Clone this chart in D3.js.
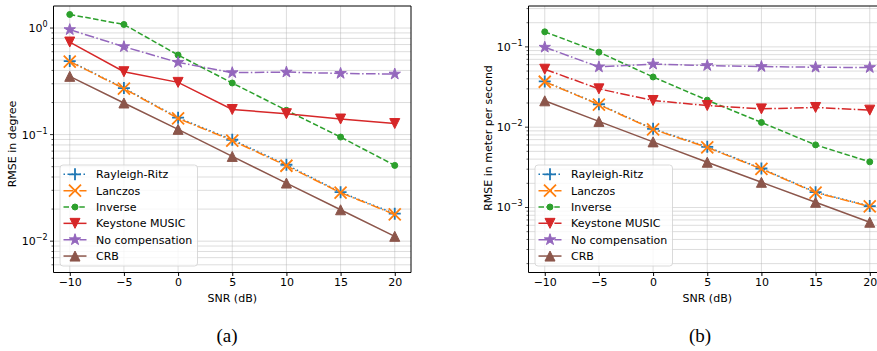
<!DOCTYPE html>
<html>
<head>
<meta charset="utf-8">
<script src="https://cdn.jsdelivr.net/npm/d3@7"></script>
<style>
  body { margin: 0; background: #fff; }
  svg { font-family: "DejaVu Sans", sans-serif; }
</style>
</head>
<body>
<div id="chart-area"></div>
<script>
// x values shared by both panels
const snr = [-10, -5, 0, 5, 10, 15, 20]
const xTicks = [-10, -5, 0, 5, 10, 15, 20]

// (a) RMSE in degree
const rrA = [0.49, 0.273, 0.144, 0.0895, 0.0521, 0.0288, 0.0181]
const lanczosA = [0.485, 0.27, 0.142, 0.088, 0.051, 0.0285, 0.0178]
const inverseA = [1.34, 1.08, 0.558, 0.305, 0.169, 0.0948, 0.0514]
const keystoneA = [0.739, 0.389, 0.309, 0.172, 0.157, 0.140, 0.127]
const nocompA = [0.966, 0.668, 0.476, 0.381, 0.386, 0.375, 0.370]
const crbA = [0.352, 0.198, 0.112, 0.0624, 0.0351, 0.0197, 0.0111]
const yTicksA = [0, -1, -2]

// (b) RMSE in meter per second
const rrV = [0.0371, 0.0193, 0.00953, 0.00569, 0.00306, 0.00155, 0.00104]
const lanczosV = [0.0368, 0.0191, 0.0094, 0.0056, 0.00302, 0.00153, 0.00103]
const inverseV = [0.154, 0.086, 0.0422, 0.0217, 0.01146, 0.00602, 0.0037]
const keystoneV = [0.0527, 0.030, 0.0215, 0.0186, 0.0169, 0.0176, 0.0163]
const nocompV = [0.099, 0.0563, 0.061, 0.0586, 0.0569, 0.0558, 0.0553]
const crbV = [0.0213, 0.0118, 0.00656, 0.00366, 0.00206, 0.00116, 0.000655]
const yTicksV = [-1, -2, -3]

const seriesNames = ["Rayleigh-Ritz", "Lanczos", "Inverse", "Keystone MUSIC", "No compensation", "CRB"]

const W = 877, H = 351
const svg = d3.select("#chart-area").append("svg")
  .attr("width", W)
  .attr("height", H)

// marker shapes, r = half size
const markerPath = {
  plus: r => `M${-r},0H${r}M0,${-r}V${r}`,
  cross: r => `M${-r},${-r}L${r},${r}M${-r},${r}L${r},${-r}`,
  circle: r => `M${r},0A${r},${r} 0 1,1 ${-r},0A${r},${r} 0 1,1 ${r},0Z`,
  tdown: r => `M0,${r}L${-r},${-r}L${r},${-r}Z`,
  tup: r => `M0,${-r}L${-r},${r}L${r},${r}Z`,
  star: r => {
    let p = ""
    for (let i = 0; i < 10; i++) {
      const rr = i % 2 ? r * 0.382 : r
      const a = -Math.PI / 2 + i * Math.PI / 5
      p += (i ? "L" : "M") + (rr * Math.cos(a)).toFixed(2) + "," + (rr * Math.sin(a)).toFixed(2)
    }
    return p + "Z"
  }
}

const DASH = {
  solid: null,
  dashed: "5.5,2.4",
  dashdot: "9.6,2.4,1.5,2.4",
  dotted: "1.5,2.5"
}

function styles(keystoneDash) {
  return [
    { color: "#1f77b4", dash: "dotted", marker: "plus", r: 6, stroked: true },
    { color: "#ff7f0e", dash: "dashdot", marker: "cross", r: 6, stroked: true },
    { color: "#2ca02c", dash: "dashed", marker: "circle", r: 3 },
    { color: "#d62728", dash: keystoneDash, marker: "tdown", r: 5 },
    { color: "#9467bd", dash: "dashdot", marker: "star", r: 6 },
    { color: "#8c564b", dash: "solid", marker: "tup", r: 5 }
  ]
}

function drawPanel(cfg) {
  const x = d3.scaleLinear().domain([-11.5, 21.5]).range([cfg.left, cfg.left + 357.5])
  const y = d3.scaleLog().domain(cfg.yDomain).range([6, 272.5])
  const g = svg.append("g")

  const clipId = "clip" + cfg.id
  svg.append("clipPath").attr("id", clipId)
    .append("rect")
    .attr("x", x.range()[0]).attr("y", 6)
    .attr("width", 357.5).attr("height", 266.5)

  // minor + major grid
  const grid = g.append("g").attr("clip-path", `url(#${clipId})`)
  const lo = Math.floor(Math.log10(cfg.yDomain[1])), hi = Math.ceil(Math.log10(cfg.yDomain[0]))
  const minor = [], major = []
  for (let k = lo; k <= hi; k++) {
    for (let m = 1; m < 10; m++) {
      const v = m * Math.pow(10, k)
      if (v < cfg.yDomain[1] || v > cfg.yDomain[0]) continue
      if (m === 1) major.push(v); else minor.push(v)
    }
  }
  grid.selectAll(".hg").data(minor.concat(major)).enter().append("line")
    .attr("x1", x.range()[0]).attr("x2", x.range()[1])
    .attr("y1", d => y(d)).attr("y2", d => y(d))
    .attr("stroke", "#b0b0b0").attr("stroke-opacity", 0.55).attr("stroke-width", 0.8)
  grid.selectAll(".vg").data(xTicks).enter().append("line")
    .attr("x1", d => x(d)).attr("x2", d => x(d))
    .attr("y1", 6).attr("y2", 272.5)
    .attr("stroke", "#b0b0b0").attr("stroke-opacity", 0.55).attr("stroke-width", 0.8)

  // series
  const st = styles(cfg.keystoneDash)
  const plot = g.append("g").attr("clip-path", `url(#${clipId})`)
  const line = d3.line().x((d, i) => x(snr[i])).y(d => y(d))
  cfg.series.forEach((vals, si) => {
    const s = st[si]
    plot.append("path")
      .attr("d", line(vals))
      .attr("fill", "none")
      .attr("stroke", s.color)
      .attr("stroke-width", 1.5)
      .attr("stroke-dasharray", DASH[s.dash])
    plot.selectAll(null).data(vals).enter().append("path")
      .attr("transform", (d, i) => `translate(${x(snr[i])},${y(d)})`)
      .attr("d", markerPath[s.marker](s.r))
      .attr("fill", s.stroked ? "none" : s.color)
      .attr("stroke", s.color)
      .attr("stroke-width", s.stroked ? 1.8 : 1)
  })

  // legend
  const lg = g.append("g")
  lg.append("rect")
    .attr("x", cfg.legX).attr("y", 165)
    .attr("width", cfg.legW).attr("height", 101)
    .attr("rx", 3)
    .attr("fill", "#fff").attr("fill-opacity", 0.8)
    .attr("stroke", "#d0d0d0").attr("stroke-width", 0.8)
  seriesNames.forEach((name, i) => {
    const s = st[i]
    const cy = 174.3 + i * 16.35
    const hx = cfg.legX + 3.5
    lg.append("line")
      .attr("x1", hx).attr("x2", hx + 23)
      .attr("y1", cy).attr("y2", cy)
      .attr("stroke", s.color).attr("stroke-width", 1.5)
      .attr("stroke-dasharray", DASH[s.dash])
    lg.append("path")
      .attr("transform", `translate(${hx + 11.5},${cy})`)
      .attr("d", markerPath[s.marker](s.r))
      .attr("fill", s.stroked ? "none" : s.color)
      .attr("stroke", s.color)
      .attr("stroke-width", s.stroked ? 1.8 : 1)
    lg.append("text")
      .attr("x", cfg.legX + 36).attr("y", cy + 4)
      .attr("font-size", "11px")
      .attr("fill", "#000")
      .text(name)
  })

  // spines
  const [x0, x1] = x.range()
  g.append("path")
    .attr("d", `M${x0},6H${x1}V272.5H${x0}Z`)
    .attr("fill", "none").attr("stroke", "#000").attr("stroke-width", 1)

  // x axis
  const xAxisCall = d3.axisBottom(x).tickValues(xTicks).tickSize(3.5).tickPadding(2)
    .tickFormat(d => d < 0 ? "\u2212" + Math.abs(d) : d)
  const xa = g.append("g")
    .attr("transform", "translate(0,272.5)")
    .call(xAxisCall)
  xa.select(".domain").remove()
  xa.selectAll("text").attr("font-size", "11px").attr("font-family", "DejaVu Sans").attr("fill", "#000")

  // y axis, minor ticks
  g.selectAll(".ymin").data(minor).enter().append("line")
    .attr("x1", x0).attr("x2", x0 - 2)
    .attr("y1", d => y(d)).attr("y2", d => y(d))
    .attr("stroke", "#000").attr("stroke-width", 0.6)
  g.selectAll(".ymaj").data(major).enter().append("line")
    .attr("x1", x0).attr("x2", x0 - 3.5)
    .attr("y1", d => y(d)).attr("y2", d => y(d))
    .attr("stroke", "#000").attr("stroke-width", 0.8)
  cfg.yTicks.forEach(e => {
    const t = g.append("text")
      .attr("x", x0 - 6).attr("y", y(Math.pow(10, e)) + 4)
      .attr("text-anchor", "end")
      .attr("font-size", "11px")
      .attr("fill", "#000")
    t.append("tspan").text("10")
    t.append("tspan").attr("dy", -5).attr("font-size", "8px")
      .text(e === 0 ? "0" : "\u2212" + Math.abs(e))
  })

  // labels
  g.append("text")
    .attr("transform", `translate(${cfg.ylabX},${cfg.ylabY}) rotate(-90)`)
    .attr("text-anchor", "middle")
    .attr("font-size", "11px")
    .attr("fill", "#000")
    .text(cfg.ylabel)
  g.append("text")
    .attr("x", (x0 + x1) / 2).attr("y", 302)
    .attr("text-anchor", "middle")
    .attr("font-size", "11px")
    .attr("fill", "#000")
    .text("SNR (dB)")
  g.append("text")
    .attr("x", cfg.capX).attr("y", 341.5)
    .attr("text-anchor", "middle")
    .attr("font-size", "19px")
    .attr("font-family", "Liberation Serif, serif")
    .attr("fill", "#000")
    .text(cfg.caption)
}

drawPanel({
  id: "a", left: 53.5, yDomain: [1.61, 0.00508], yTicks: yTicksA,
  series: [rrA, lanczosA, inverseA, keystoneA, nocompA, crbA],
  keystoneDash: "solid", legX: 60, legW: 137.5,
  ylabel: "RMSE in degree", ylabX: 16, ylabY: 144,
  caption: "(a)", capX: 227
})

drawPanel({
  id: "b", left: 528.5, yDomain: [0.323, 0.000155], yTicks: yTicksV,
  series: [rrV, lanczosV, inverseV, keystoneV, nocompV, crbV],
  keystoneDash: "dashdot", legX: 535, legW: 137.5,
  ylabel: "RMSE in meter per second", ylabX: 492, ylabY: 138,
  caption: "(b)", capX: 700
})
</script>
</body>
</html>
